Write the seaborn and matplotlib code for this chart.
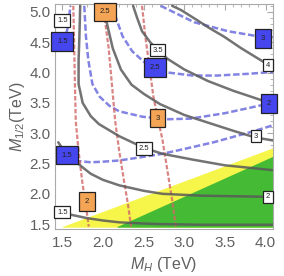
import matplotlib
matplotlib.use("Agg")
import matplotlib.pyplot as plt
from matplotlib.ticker import MultipleLocator, FormatStrFormatter
import seaborn as sns

sns.set_theme(style="white")
plt.rcParams["font.family"] = ["Liberation Sans", "DejaVu Sans"]
plt.rcParams["mathtext.fontset"] = "custom"
plt.rcParams["mathtext.rm"] = "Liberation Sans"
plt.rcParams["mathtext.it"] = "Liberation Sans:italic"

# ---- red dashed contours (values 2, 2.5, 3) ----
red_2_mh = [1.635, 1.645, 1.655, 1.665, 1.70, 1.745, 1.79, 1.825]
red_2_m12 = [5.10, 4.5, 3.8, 3.2, 2.7, 2.2, 1.8, 1.46]
red_25_mh = [2.00, 2.03, 2.07, 2.11, 2.15, 2.20, 2.26, 2.31, 2.345]
red_25_m12 = [5.10, 4.8, 4.4, 3.8, 3.2, 2.7, 2.2, 1.8, 1.46]
red_3_mh = [2.48, 2.52, 2.57, 2.62, 2.67, 2.73, 2.79, 2.85, 2.895]
red_3_m12 = [5.10, 4.6, 4.1, 3.6, 3.27, 2.9, 2.4, 1.9, 1.46]

# ---- blue dashed contours (values 1.5, 2, 2.5, 3, 1.5) ----
blue_15a_mh = [1.43, 1.47, 1.52, 1.57, 1.60]
blue_15a_m12 = [4.38, 4.42, 4.52, 4.75, 5.10]
blue_2_mh = [1.77, 1.79, 1.82, 1.87, 1.96, 2.08, 2.20, 2.49, 2.80, 3.08, 3.50, 3.98, 4.09]
blue_2_m12 = [5.10, 4.6, 4.2, 3.81, 3.6, 3.45, 3.36, 3.27, 3.23, 3.24, 3.33, 3.47, 3.50]
blue_25_mh = [2.12, 2.16, 2.24, 2.36, 2.50, 2.62, 2.80, 3.10, 3.40, 3.80, 4.09]
blue_25_m12 = [5.10, 4.9, 4.6, 4.35, 4.18, 4.10, 4.00, 3.95, 3.95, 3.98, 4.01]
blue_3_mh = [2.71, 2.80, 3.12, 3.54, 3.94, 4.09]
blue_3_m12 = [5.10, 5.04, 4.83, 4.68, 4.59, 4.58]
blue_15b_mh = [1.45, 1.57, 1.70, 1.85, 2.00, 2.20, 2.45, 2.73, 3.00, 3.36, 3.82, 4.09]
blue_15b_m12 = [2.68, 2.60, 2.54, 2.52, 2.53, 2.55, 2.60, 2.66, 2.74, 2.85, 3.02, 3.13]

# ---- gray solid contours ----
gray_a_mh = [1.72, 1.71, 1.70, 1.70, 1.75, 1.85, 1.95, 2.20, 2.39, 2.50, 2.73, 3.12, 3.50, 4.09]
gray_a_m12 = [5.10, 4.6, 4.2, 3.81, 3.5, 3.28, 3.15, 2.95, 2.83, 2.76, 2.66, 2.56, 2.47, 2.39]
gray_c_mh = [2.00, 2.05, 2.12, 2.22, 2.35, 2.50, 2.70, 3.00, 3.30, 3.60, 3.87, 4.09]
gray_c_m12 = [5.10, 4.8, 4.4, 4.05, 3.8, 3.65, 3.48, 3.30, 3.17, 3.04, 2.93, 2.88]
gray_d_mh = [2.37, 2.42, 2.48, 2.58, 2.67, 2.80, 3.00, 3.29, 3.60, 3.98, 4.09]
gray_d_m12 = [5.10, 4.9, 4.68, 4.5, 4.37, 4.22, 4.05, 3.86, 3.70, 3.53, 3.49]
gray_e_mh = [2.85, 2.96, 3.15, 3.30, 3.49, 3.70, 3.98, 4.09]
gray_e_m12 = [5.10, 5.03, 4.87, 4.74, 4.59, 4.40, 4.17, 4.09]
gray_f_mh = [1.45, 1.50, 1.57, 1.69, 1.85, 2.00, 2.20, 2.50, 2.73, 3.20, 3.60, 4.09]
gray_f_m12 = [2.85, 2.75, 2.64, 2.50, 2.33, 2.23, 2.14, 2.05, 2.00, 1.97, 1.96, 1.95]
gray_g_mh = [1.45, 1.50, 1.59, 1.80, 2.00, 2.20, 2.50, 2.73, 3.20, 4.09]
gray_g_m12 = [1.75, 1.71, 1.66, 1.60, 1.56, 1.53, 1.51, 1.50, 1.49, 1.49]

# ---- shaded regions (upper boundaries) ----
yellow_mh = [1.50, 4.09]
yellow_top = [1.46, 2.76]
green_mh = [2.17, 4.09]
green_top = [1.46, 2.62]
region_bottom = 1.45

# ---- contour labels ----
label_text = ["1.5", "3.5", "4", "2.5", "3", "2", "1.5",
              "1.5", "2.5", "3", "2", "1.5",
              "2.5", "3", "2"]
label_mh = [1.50, 2.67, 4.03, 2.50, 3.88, 4.03, 1.50,
            1.50, 2.64, 3.97, 4.04, 1.56,
            2.02, 2.67, 1.80]
label_m12 = [4.86, 4.37, 4.12, 2.75, 2.95, 1.95, 1.70,
             4.51, 4.08, 4.56, 3.49, 2.64,
             5.00, 3.25, 1.87]
label_kind = ["w"] * 7 + ["b"] * 5 + ["o"] * 3

xticks = [1.5, 2.0, 2.5, 3.0, 3.5, 4.0]
yticks = [1.5, 2.0, 2.5, 3.0, 3.5, 4.0, 4.5, 5.0]

fig = plt.figure(figsize=(2.84, 2.76), dpi=100)
ax = fig.add_axes([55 / 284, 1 - 229 / 276, 218 / 284, 225 / 276])

ax.fill_between(yellow_mh, region_bottom, yellow_top, color="#f6f64a", lw=0, zorder=1)
ax.fill_between(green_mh, region_bottom, green_top, color="#45bb35", lw=0, zorder=1.1)

gray_kw = dict(color="#5a5a5a", lw=1.8, alpha=0.85, sort=False, estimator=None, zorder=3)
for xs, ys in [(gray_a_mh, gray_a_m12), (gray_c_mh, gray_c_m12), (gray_d_mh, gray_d_m12),
               (gray_e_mh, gray_e_m12), (gray_f_mh, gray_f_m12), (gray_g_mh, gray_g_m12)]:
    sns.lineplot(x=xs, y=ys, ax=ax, **gray_kw)

blue_kw = dict(color="#6464dc", lw=1.8, alpha=0.8, sort=False, estimator=None, zorder=2.5,
               linestyle=(0, (2.6, 1.1)))
for xs, ys in [(blue_15a_mh, blue_15a_m12), (blue_2_mh, blue_2_m12), (blue_25_mh, blue_25_m12),
               (blue_3_mh, blue_3_m12), (blue_15b_mh, blue_15b_m12)]:
    sns.lineplot(x=xs, y=ys, ax=ax, **blue_kw)

red_kw = dict(color="#d26666", lw=1.6, alpha=0.8, sort=False, estimator=None, zorder=2.6,
              linestyle=(0, (2.0, 0.9)))
for xs, ys in [(red_2_mh, red_2_m12), (red_25_mh, red_25_m12), (red_3_mh, red_3_m12)]:
    sns.lineplot(x=xs, y=ys, ax=ax, **red_kw)

fills = {"w": "white", "b": "#4646ee", "o": "#f4a455"}
pads = {"w": 0.35, "b": 0.75, "o": 0.75}
for t, x, y, k in zip(label_text, label_mh, label_m12, label_kind):
    ax.text(x, y, t, ha="center", va="center", fontsize=5.5, color="#222222", zorder=5,
            bbox=dict(boxstyle=f"square,pad={pads[k]}", fc=fills[k], ec="#222222", lw=0.9))

ax.set_xlim(1.41, 4.09)
ax.set_ylim(1.42, 5.13)
ax.set_xticks(xticks)
ax.set_yticks(yticks)
ax.xaxis.set_major_formatter(FormatStrFormatter("%.1f"))
ax.yaxis.set_major_formatter(FormatStrFormatter("%.1f"))
ax.xaxis.set_minor_locator(MultipleLocator(0.1))
ax.yaxis.set_minor_locator(MultipleLocator(0.1))
ax.tick_params(which="both", direction="in", top=True, right=True, color="#aaaaaa",
               labelcolor="#606060", labelsize=11)
ax.tick_params(axis="x", pad=5)
ax.tick_params(axis="y", pad=3)
ax.tick_params(which="major", length=4, width=0.8)
ax.tick_params(which="minor", length=2, width=0.6)
for s in ax.spines.values():
    s.set_color("#aaaaaa")
    s.set_linewidth(0.8)
ax.set_xlabel(r"$M_H$ (TeV)", fontsize=11.5, color="#606060", labelpad=4)
ax.set_ylabel(r"$M_{1/2}$(TeV)", fontsize=11.5, color="#606060", labelpad=2)

fig.savefig("out.png", dpi=100)
